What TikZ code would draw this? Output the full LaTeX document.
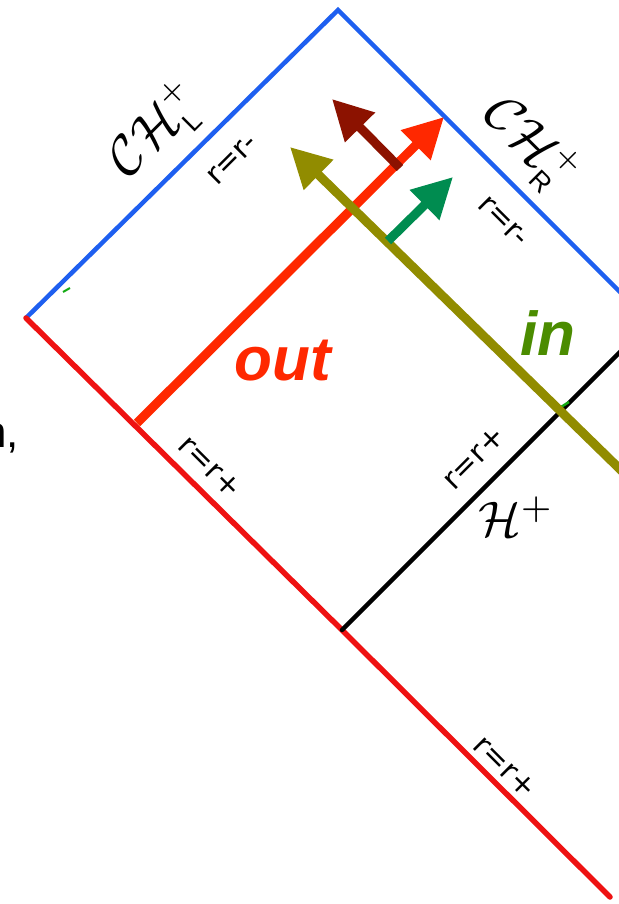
\documentclass[tikz,border=0pt]{standalone}
\usepackage{fontspec}
\setsansfont{Liberation Sans}
\newfontfamily\rfont{DejaVu Sans}
\usetikzlibrary{arrows.meta}
\definecolor{bndblue}{RGB}{30,95,240}
\definecolor{bndred}{RGB}{238,18,18}
\definecolor{outred}{RGB}{255,40,0}
\definecolor{darkred}{RGB}{140,18,0}
\definecolor{olive}{RGB}{145,140,0}
\definecolor{arrgreen}{RGB}{0,140,80}
\definecolor{ingreen}{RGB}{75,140,0}
\definecolor{tickgreen}{RGB}{20,170,20}
\tikzset{
  bnd/.style={line width=#1, line cap=round, line join=miter},
  ray/.style={line width=9pt, -{Triangle[length=40pt,width=40pt]}},
  rlab/.style={font=\rfont\fontsize{30}{30}\selectfont, inner sep=0pt},
  callab/.style={scale=#1, transform shape, inner sep=0pt},
  biglab/.style={font=\sffamily\bfseries\itshape\fontsize{62}{62}\selectfont, inner sep=0pt, anchor=base}
}
\begin{document}
\begin{tikzpicture}[x=1pt,y=-1pt]
\useasboundingbox (0,0) rectangle (618,904);
% vertices
\coordinate (L) at (26,318);
\coordinate (T) at (338,10);
\coordinate (B) at (342,630);
\coordinate (Rb) at (626,298);
\coordinate (Rk) at (626,346);
\coordinate (E) at (610,897);
% boundaries
\draw[bnd=4.5pt, bndblue] (L) -- (T) -- (Rb);
\draw[bnd=5.5pt, bndred] (L) -- (B) -- (E);
\draw[bnd=4.5pt, black] (B) -- (Rk);
% small green ticks
\coordinate (g1a) at (63,292); \coordinate (g1b) at (70,288);
\draw[tickgreen, line width=2pt] (g1a) -- (g1b);
\coordinate (g2a) at (561,407); \coordinate (g2b) at (569,402);
\draw[tickgreen, line width=2.5pt] (g2a) -- (g2b);
% rays
\coordinate (o1) at (137,423); \coordinate (o2) at (444,117);
\coordinate (d1) at (400,168); \coordinate (d2) at (332,99);
\coordinate (v1) at (628,477); \coordinate (v2) at (290,147);
\coordinate (n1) at (388,241); \coordinate (n2) at (453,177);
\draw[ray, outred] (o1) -- (o2);
\draw[ray, olive] (v1) -- (v2);
\draw[ray, darkred] (d1) -- (d2);
\draw[ray, arrgreen] (n1) -- (n2);
% labels
\node[callab=5.4, rotate=45] (chl) at (157,131) {$\mathcal{CH}^{\scriptscriptstyle +}_{\scriptscriptstyle\mathsf{L}}$};
\node[callab=5.4, rotate=-45] (chr) at (530,145) {$\mathcal{CH}^{\scriptscriptstyle +}_{\scriptscriptstyle\mathsf{R}}$};
\node[callab=5.0] (hp) at (516,517) {$\mathcal{H}^{+}$};
\node[rlab, rotate=45] (rm1) at (232,160) {r=r-};
\node[rlab, rotate=-45] (rm2) at (503,221) {r=r-};
\node[rlab, rotate=-45] (rp1) at (210,467) {r=r+};
\node[rlab, rotate=45] (rp2) at (474,458) {r=r+};
\node[rlab, rotate=-45] (rp3) at (505,767) {r=r+};
\node[biglab, text=outred] (outl) at (283,380) {out};
\node[biglab, text=ingreen] (inl) at (548,355) {in};
\node[font=\sffamily\fontsize{44}{44}\selectfont, inner sep=0pt, anchor=base east] (frag) at (19,447) {n,};
\end{tikzpicture}
\end{document}
